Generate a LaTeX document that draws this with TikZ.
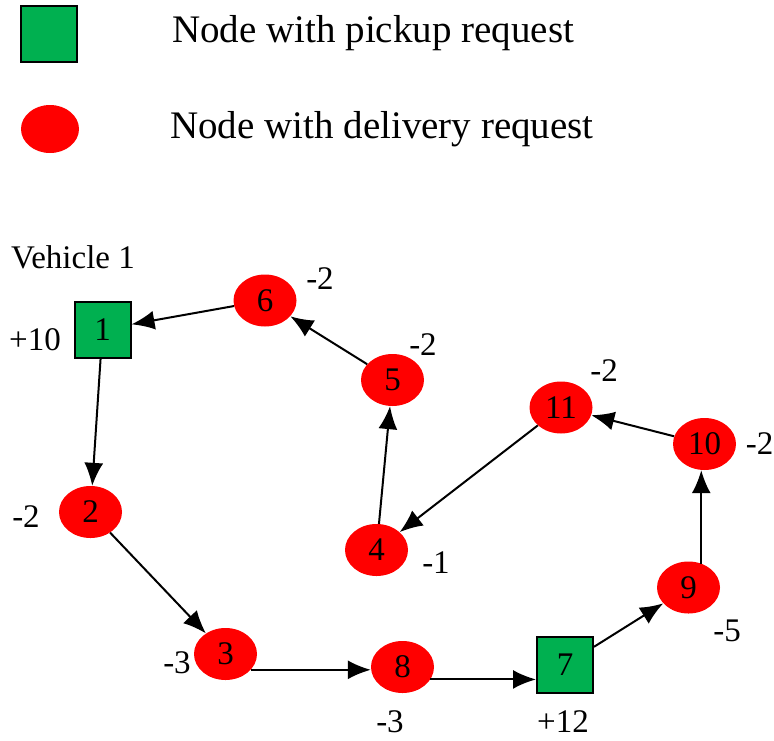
\documentclass[tikz,border=0pt]{standalone}
\usepackage{fontspec}
\setmainfont{Liberation Serif}
\usepackage{tikz}
\usetikzlibrary{arrows.meta}
\usetikzlibrary{shapes.geometric}
\definecolor{pgreen}{HTML}{00B050}
\colorlet{dred}{red}
\tikzset{
  pickup/.style={draw=black, line width=2pt, fill=pgreen, minimum size=56pt, inner sep=0pt, font=\fontsize{33}{38}\selectfont},
  delivery/.style={ellipse, fill=dred, minimum width=63pt, minimum height=52pt, inner sep=0pt, font=\fontsize{33}{38}\selectfont},
  demand/.style={font=\fontsize{33}{38}\selectfont},
  route/.style={line width=2pt, -{Latex[length=23pt, width=19pt]}}
}

\begin{document}
\begin{tikzpicture}[x=1pt, y=-1pt]
    \useasboundingbox (0, 0) rectangle (774, 740);
    % legend
    \begin{scope}
        \node [pickup] (lp) at (48.5, 33.5) {};
        \node [delivery, minimum width=58pt, minimum height=48pt] (ld) at (50, 129) {};
        \node [anchor=west, font=\fontsize{39}{44}\selectfont, inner sep=0pt] (lpt) at (172, 33) {Node with pickup request};
        \node [anchor=west, font=\fontsize{39}{44}\selectfont, inner sep=0pt] (ldt) at (170, 129) {Node with delivery request};
    \end{scope}
    % route of vehicle 1
    \begin{scope}
        \node [demand] (veh) at (73, 257) {Vehicle 1};
        \node [pickup] (n1) at (102.5, 329.5) {1};
        \node [delivery] (n2) at (90.5, 512) {2};
        \node [delivery] (n3) at (225.5, 654) {3};
        \node [delivery] (n4) at (376.5, 550) {4};
        \node [delivery] (n5) at (392.5, 380) {5};
        \node [delivery] (n6) at (265, 300.5) {6};
        \node [pickup] (n7) at (565, 665) {7};
        \node [delivery] (n8) at (402.5, 667) {8};
        \node [delivery] (n9) at (688.5, 587.5) {9};
        \node [delivery] (n10) at (704.5, 444) {10};
        \node [delivery] (n11) at (561, 407.5) {11};

        \node [demand] (d1) at (35, 340) {+10};
        \node [demand] (d2) at (26, 517) {-2};
        \node [demand] (d3) at (177, 663) {-3};
        \node [demand] (d4) at (436, 563) {-1};
        \node [demand] (d5) at (423, 345) {-2};
        \node [demand] (d6) at (320, 279) {-2};
        \node [demand] (d7) at (563, 722) {+12};
        \node [demand] (d8) at (390, 722) {-3};
        \node [demand] (d9) at (727, 631) {-5};
        \node [demand, anchor=east, inner sep=0.5pt] (d10) at (774, 444) {-2};
        \node [demand] (d11) at (604, 371) {-2};

        \draw [route] (n1) -- (n2);
        \draw [route] (n2) -- (n3);
        \draw [route] (n3.-32) -- (n3.-32 -| n8.west);
        \draw [route] (n8.-24) -- (n8.-24 -| n7.west);
        \draw [route] (n7) -- (n9);
        \draw [route] (n9.62) -- (n9.62 |- n10.south);
        \draw [route] (n10) -- (n11);
        \draw [route] (n11) -- (n4);
        \draw [route] (n4) -- (n5);
        \draw [route] (n5) -- (n6);
        \draw [route] (n6) -- (n1);
    \end{scope}
\end{tikzpicture}
\end{document}
